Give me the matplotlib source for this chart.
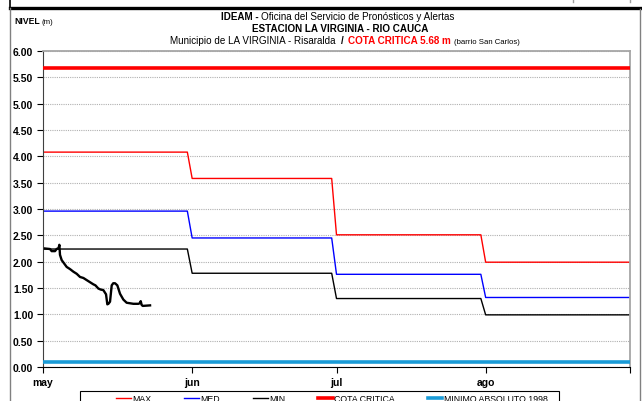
import numpy as np
import matplotlib
matplotlib.use("Agg")
import matplotlib.pyplot as plt
from matplotlib.lines import Line2D
from matplotlib.patches import Rectangle

# monthly reference levels (m)
months = ["may", "jun", "jul", "ago"]
month_days = [31, 30, 31, 31]
max_vals = [4.08, 3.58, 2.51, 1.99]
med_vals = [2.96, 2.45, 1.76, 1.32]
min_vals = [2.24, 1.78, 1.30, 0.99]
cota_critica = 5.68
minimo_1998 = 0.10

# observed level, days since 1 May
obs_day = [0.42, 1.46, 1.80, 2.49, 2.84, 3.25, 3.40, 3.53, 3.88, 4.92, 5.6, 6.31,
           7.0, 7.69, 8.4, 9.08, 10.46, 10.9, 11.50, 12.0, 12.54, 13.10, 13.37,
           13.6, 13.93, 14.28, 14.6, 14.97, 15.45, 16.01, 16.7, 17.39, 18.78,
           19.82, 20.10, 20.31, 20.50, 20.72, 22.25]
obs_level = [2.25, 2.24, 2.20, 2.20, 2.24, 2.26, 2.32, 2.13, 2.03, 1.90, 1.86, 1.81,
             1.77, 1.71, 1.69, 1.65, 1.57, 1.55, 1.49, 1.47, 1.46, 1.38, 1.19,
             1.20, 1.24, 1.55, 1.59, 1.59, 1.55, 1.39, 1.28, 1.22, 1.20,
             1.20, 1.21, 1.25, 1.18, 1.16, 1.17]

W, H = 642, 402
plt.rcParams["font.family"] = ["Liberation Sans Narrow", "Liberation Sans", "DejaVu Sans"]

fig = plt.figure(figsize=(W / 100, H / 100), dpi=100)
ax = fig.add_axes([43 / W, 1 - 368 / H, (630 - 43) / W, (368 - 52) / H])

days = np.arange(sum(month_days))
month_start = np.cumsum([0] + month_days[:-1])

ax.plot(days, np.repeat(max_vals, month_days), color="red", lw=1.0)
ax.plot(days, np.repeat(med_vals, month_days), color="blue", lw=1.0)
ax.plot(days, np.repeat(min_vals, month_days), color="black", lw=1.0)
ax.axhline(cota_critica, color="red", lw=2.6, zorder=3)
ax.axhline(minimo_1998, color="#1a9bd7", lw=2.6, zorder=3)
ax.plot(obs_day, obs_level, color="black", lw=1.7, zorder=4)

ax.set_xlim(0, days[-1])
ax.set_ylim(0, 6)
ax.set_yticks(np.arange(0, 6.01, 0.5))
ax.set_yticklabels(["%.2f" % v for v in np.arange(0, 6.01, 0.5)],
                   fontweight="bold", fontsize=7.5, family="Liberation Sans")
ax.set_xticks(list(month_start) + [days[-1]])
ax.set_xticklabels(months + [""], fontweight="bold", fontsize=7.5, family="Liberation Sans")
ax.tick_params(axis="y", length=4, width=0.8, pad=3)
ax.tick_params(axis="x", length=4, width=0.8, pad=3)
ax.grid(axis="y", color="#b0b0b0", linestyle=(0, (1, 1)), lw=0.8, zorder=0)

ax.spines["top"].set_color("#a6a6a6")
ax.spines["right"].set_color("#a6a6a6")
ax.spines["top"].set_linewidth(1.3)
ax.spines["right"].set_linewidth(1.3)
ax.spines["left"].set_color("#404040")
ax.spines["bottom"].set_color("black")

# outer frame pieces
fig.add_artist(Line2D([10 / W, 1], [1 - 8.5 / H] * 2, color="black", lw=2.4))
fig.add_artist(Line2D([10 / W] * 2, [1, 1 - 8.5 / H], color="black", lw=1.2))
fig.add_artist(Line2D([10 / W] * 2, [0, 1 - 8.5 / H], color="#808080", lw=1.0))
fig.add_artist(Line2D([640 / W] * 2, [0, 1 - 10 / H], color="#808080", lw=1.0))
fig.add_artist(Line2D([573 / W] * 2, [1, 1 - 3 / H], color="#a0a0a0", lw=1.0))
fig.add_artist(Line2D([630 / W] * 2, [1, 1 - 3 / H], color="#a0a0a0", lw=1.0))

renderer = fig.canvas.get_renderer()


def rich_line(y_px, parts, xc_px):
    texts, widths = [], []
    for s, kw, gap in parts:
        t = fig.text(0, 1 - y_px / H, s, va="baseline", **kw)
        texts.append(t)
        widths.append(t.get_window_extent(renderer).width + gap)
    x = xc_px - sum(widths) / 2
    for t, w in zip(texts, widths):
        t.set_x(x / W)
        x += w


fs = 7.1
rich_line(20, [("IDEAM -", dict(fontsize=fs, fontweight="bold"), 2.5),
               ("Oficina del Servicio de Pronósticos y Alertas", dict(fontsize=fs), 0)], 338)
rich_line(32, [("ESTACION LA VIRGINIA - RIO CAUCA", dict(fontsize=fs, fontweight="bold"), 0)], 340)
rich_line(44, [("Municipio de LA VIRGINIA - Risaralda", dict(fontsize=fs), 5),
               ("/", dict(fontsize=fs, fontweight="bold"), 5),
               ("COTA CRITICA 5.68 m", dict(fontsize=fs, fontweight="bold", color="red"), 3),
               ("(barrio San Carlos)", dict(fontsize=5.6), 0)], 345)
rich_line(24, [("NIVEL", dict(fontsize=6.2, fontweight="bold"), 2),
               ("(m)", dict(fontsize=5.6), 0)], 34)

handles = [Line2D([], [], color="red", lw=1.0),
           Line2D([], [], color="blue", lw=1.0),
           Line2D([], [], color="black", lw=1.0),
           Line2D([], [], color="red", lw=2.6),
           Line2D([], [], color="#1a9bd7", lw=2.6)]
labels = ["MAX", "MED", "MIN", "COTA CRITICA", "MINIMO ABSOLUTO 1998"]
fig.add_artist(Rectangle((80 / W, -0.05), (559 - 80) / W, 0.05 + 1 - 392 / H,
                         transform=fig.transFigure, facecolor="white",
                         edgecolor="black", lw=0.8))
fig.legend(handles, labels, loc="upper center", bbox_to_anchor=(332 / W, 1 - 392 / H),
           ncol=5, fontsize=6.3, frameon=False,
           handlelength=1.7, handletextpad=0.2, columnspacing=3.7, borderpad=0.35,
           borderaxespad=0)

fig.savefig("out.png", dpi=100)
